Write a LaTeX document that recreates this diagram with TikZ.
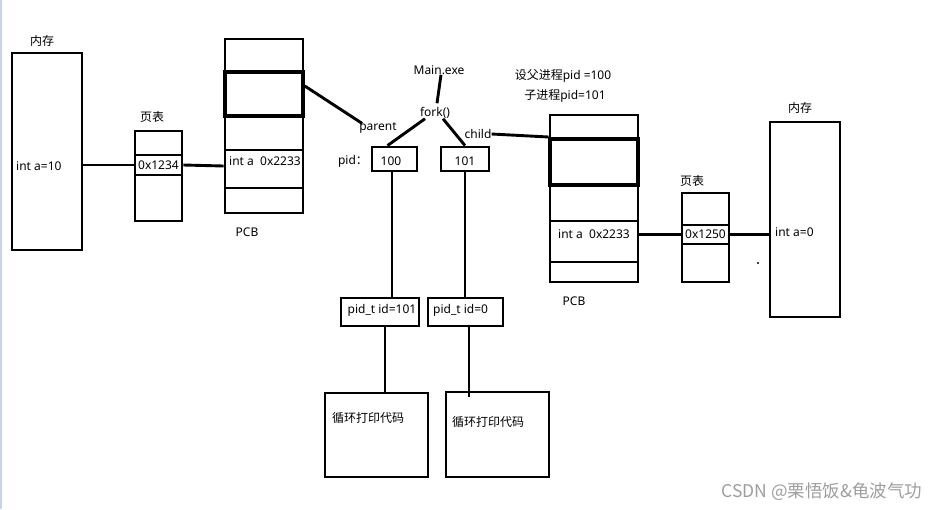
\documentclass[tikz,border=0pt]{standalone}
\usepackage{fontspec}
\setmainfont{Noto Sans}
\newfontfamily\cjk{Noto Sans CJK SC}
\begin{document}
\begin{tikzpicture}[x=1pt,y=-1pt,
  box/.style={draw, line width=2.9pt, inner sep=0pt},
  thickbox/.style={draw, line width=3.6pt, inner sep=0pt},
  wire/.style={line width=2.9pt},
  lbl/.style={font=\fontsize{12}{14}\selectfont, inner sep=0pt},
  wmark/.style={font=\fontsize{17.5}{20}\selectfont\cjk, text=black!38, inner sep=0pt}
]
\useasboundingbox (0,0) rectangle (949,509);
\fill[white] (0,0) rectangle (949,509);
\draw[line width=1.5pt, color={rgb,255:red,200;green,212;blue,232}] (0.75,0) -- (0.75,509);

% ---- left memory
\node[box, minimum width=70pt, minimum height=197pt] (memL) at (47,151.5) {};
\node[lbl] (memLt) at (42,41) {\cjk 内存};
\node[lbl, anchor=west] (aL) at (16,166) {int a=10};

% ---- left page table
\node[box, minimum width=47pt, minimum height=90pt] (ptL) at (158.5,176) {};
\node[box, minimum width=47pt, minimum height=20pt] (ptLrow) at (158.5,165) {};
\node[lbl] (ptLtxt) at (158.5,165) {0x1234};
\node[lbl] (ptLt) at (152,117) {\cjk 页表};

% ---- left PCB
\node[box, minimum width=78pt, minimum height=174pt] (pcbL) at (264,126) {};
\node[thickbox, minimum width=78pt, minimum height=44pt] (pcbLproc) at (264,94) {};
\node[box, minimum width=78pt, minimum height=38pt] (pcbLa) at (264,169) {};
\node[lbl, anchor=west] (pcbLtxt) at (229,161) {int a\ \ 0x2233};
\node[lbl] (pcbLt) at (247,232) {PCB};

\draw[wire] (ptLrow.west -| memL.east) -- (ptLrow.west);
\draw[wire] (ptLrow.east) -- ([yshift=-1pt]ptLrow.east -| pcbL.west);

% ---- fork
\node[lbl] (main) at (439,70) {Main.exe};
\node[lbl] (fork) at (435,113) {fork()};
\node[lbl] (parent) at (378,128) {parent};
\node[lbl] (child) at (478,134) {child};
\node[lbl] (pidlbl) at (353,161) {pid\cjk ：};
\node[box, minimum width=45pt, minimum height=24pt] (b100) at (394.5,159) {};
\node[lbl] (b100t) at (391,161) {100};
\node[box, minimum width=48pt, minimum height=24pt] (b101) at (465,159) {};
\node[lbl] (b101t) at (465,161) {101};

\draw[wire] ([xshift=2pt]main.south) -- ([xshift=2pt,yshift=4pt]fork.north);
\draw[wire] ([xshift=-10pt]fork.south) -- ([xshift=-7pt]b100.north);
\draw[wire] ([xshift=8pt]fork.south) -- (b101.north);
\draw[wire] ([yshift=8pt]pcbLproc.east) -- ([xshift=3pt,yshift=-1pt]parent.north west);

% ---- right info
\node[lbl] (info1) at (563,76) {{\cjk 设父进程}pid =100};
\node[lbl] (info2) at (565,96) {{\cjk 子进程}pid=101};

% ---- right PCB
\node[box, minimum width=88pt, minimum height=167pt] (pcbR) at (594,198.5) {};
\node[thickbox, minimum width=88pt, minimum height=46pt] (pcbRproc) at (594,162) {};
\node[box, minimum width=88pt, minimum height=41pt] (pcbRa) at (594,241.5) {};
\node[lbl, anchor=west] (pcbRtxt) at (558,234) {int a\ \ 0x2233};
\node[lbl] (pcbRt) at (574,301) {PCB};
\draw[wire] (child.east) -- ([yshift=-3pt]child.east -| pcbR.west);

% ---- right page table
\node[box, minimum width=47pt, minimum height=89pt] (ptR) at (705.5,237.5) {};
\node[box, minimum width=47pt, minimum height=19pt] (ptRrow) at (705.5,234.5) {};
\node[lbl] (ptRtxt) at (705.5,234.5) {0x1250};
\node[lbl] (ptRt) at (692,181) {\cjk 页表};
\draw[wire] (ptRrow.west -| pcbR.east) -- (ptRrow.west);

% ---- right memory
\node[box, minimum width=70pt, minimum height=195pt] (memR) at (805,219.5) {};
\node[lbl] (memRt) at (800,108) {\cjk 内存};
\node[lbl, anchor=west] (aR) at (775,232) {int a=0};
\draw[wire] (ptRrow.east) -- (ptRrow.east -| memR.west);
\fill (758,263) circle (1.2pt);

% ---- pid_t boxes
\node[box, minimum width=78pt, minimum height=28pt] (id1) at (380,312) {};
\node[lbl] (id1t) at (382,310) {pid\_t id=101};
\node[box, minimum width=75pt, minimum height=28pt] (id0) at (465.5,312) {};
\node[lbl, anchor=west] (id0t) at (433,310) {pid\_t id=0};
\draw[wire] ([xshift=-2.5pt]b100.south) -- ([xshift=-2.5pt]b100.south |- id1.north);
\draw[wire] (b101.south) -- (b101.south |- id0.north);

% ---- loop boxes
\node[box, minimum width=103pt, minimum height=84pt] (loop1) at (376.5,435) {};
\node[lbl, anchor=west] (loop1t) at (332,418) {\cjk 循环打印代码};
\node[box, minimum width=103pt, minimum height=85pt] (loop2) at (497.5,434.5) {};
\node[lbl, anchor=west] (loop2t) at (452,422) {\cjk 循环打印代码};
\draw[wire] ([xshift=5pt]id1.south) -- ([xshift=5pt]id1.south |- loop1.north);
\draw[wire] ([xshift=3.5pt]id0.south) -- ([xshift=3.5pt,yshift=-6pt]id0.south |- loop2.north);

% ---- watermark
\node[wmark] (wm) at (822,492) {CSDN @栗悟饭\&龟波气功};
\end{tikzpicture}
\end{document}
